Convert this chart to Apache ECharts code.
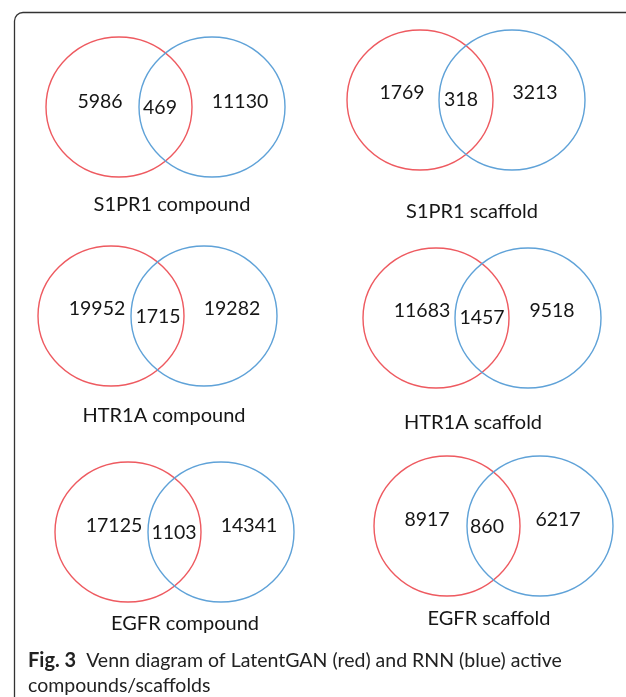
<!DOCTYPE html>
<html>
<head>
<meta charset="utf-8">
<script src="https://cdn.jsdelivr.net/npm/echarts@6/dist/echarts.min.js"></script>
<style>
html,body{margin:0;padding:0;background:#fff;}
#chart{width:626px;height:697px;}
</style>
</head>
<body>
<div id="chart"></div>
<script>
// ---- data ----
const panelTitles = ['S1PR1 compound', 'S1PR1 scaffold', 'HTR1A compound', 'HTR1A scaffold', 'EGFR compound', 'EGFR scaffold'];
const latentGANOnly = [5986, 1769, 19952, 11683, 17125, 8917];
const overlapBoth = [469, 318, 1715, 1457, 1103, 860];
const rnnOnly = [11130, 3213, 19282, 9518, 14341, 6217];
const setNames = ['LatentGAN', 'RNN'];

// ---- layout (pixel space of the hidden axes) ----
// per panel: red centre x, blue centre x, centre y
const layoutCircles = [
  [119, 212, 107],
  [420, 512, 100],
  [111, 204, 316],
  [436, 528, 318],
  [128, 221, 532],
  [447, 540, 526]
];
// per panel: [leftX, leftY, midX, midY, rightX, rightY, titleX, titleY]
const layoutLabels = [
  [100, 102, 160, 108, 240, 102, 172, 205],
  [402, 93, 461, 100, 535, 93, 472, 212],
  [97, 309, 158, 317, 232, 309, 164, 416],
  [422, 311, 482, 318, 552, 311, 473, 423],
  [114, 526, 174, 533, 249, 526, 185, 624],
  [427, 520, 487, 527, 558, 520, 489, 619]
];
const RX = 73, RY = 70;
const COLORS = ['#EE5A60', '#5FA2D8'];

const circleData = [];
layoutCircles.forEach(function (c, i) {
  circleData.push({ value: [c[0], c[2], RX, RY, 0], name: panelTitles[i] + ' ' + setNames[0] });
  circleData.push({ value: [c[1], c[2], RX, RY, 1], name: panelTitles[i] + ' ' + setNames[1] });
});
const numberData = [];
const titleData = [];
layoutLabels.forEach(function (l, i) {
  numberData.push([l[0], l[1], String(latentGANOnly[i])]);
  numberData.push([l[2], l[3], String(overlapBoth[i])]);
  numberData.push([l[4], l[5], String(rnnOnly[i])]);
  titleData.push([l[6], l[7], panelTitles[i]]);
});

const chart = echarts.init(document.getElementById('chart'), null, { renderer: 'canvas' });
const FONT = 'Lato, "Open Sans", sans-serif';

function textRenderer(size) {
  return function (params, api) {
    const p = api.coord([api.value(0), api.value(1)]);
    return {
      type: 'text',
      x: p[0], y: p[1],
      style: {
        text: api.value(2),
        align: 'center', verticalAlign: 'middle',
        fill: '#161616',
        font: size + 'px ' + FONT
      }
    };
  };
}

chart.setOption({
  animation: false,
  backgroundColor: '#fff',
  grid: { left: 0, right: 0, top: 0, bottom: 0 },
  xAxis: { type: 'value', min: 0, max: 626, show: false },
  yAxis: { type: 'value', min: 0, max: 697, inverse: true, show: false },
  series: [
    {
      type: 'custom',
      coordinateSystem: 'cartesian2d',
      data: circleData,
      renderItem: function (params, api) {
        const p = api.coord([api.value(0), api.value(1)]);
        const s = api.size([api.value(2), api.value(3)]);
        return {
          type: 'circle',
          x: p[0], y: p[1],
          scaleY: s[1] / s[0],
          shape: { cx: 0, cy: 0, r: s[0] },
          style: { fill: null, stroke: COLORS[api.value(4)], lineWidth: 1.4 }
        };
      }
    },
    {
      type: 'custom',
      coordinateSystem: 'cartesian2d',
      data: numberData,
      renderItem: textRenderer(19.5)
    },
    {
      type: 'custom',
      coordinateSystem: 'cartesian2d',
      data: titleData,
      renderItem: textRenderer(20)
    }
  ],
  graphic: [
    {
      type: 'line',
      shape: { x1: 14.5, y1: 21, x2: 14.5, y2: 697 },
      style: { stroke: '#333', lineWidth: 1.3 }
    },
    {
      type: 'line',
      shape: { x1: 23, y1: 12.5, x2: 626, y2: 12.5 },
      style: { stroke: '#333', lineWidth: 1.3 }
    },
    {
      type: 'arc',
      shape: { cx: 23, cy: 21, r: 8.5, startAngle: Math.PI, endAngle: Math.PI * 1.5, clockwise: true },
      style: { stroke: '#333', lineWidth: 1.3, fill: null }
    },
    {
      type: 'text',
      x: 28, y: 651,
      style: {
        text: '{b|Fig. 3}  Venn diagram of LatentGAN (red) and RNN (blue) active',
        font: '19.5px ' + FONT,
        fill: '#222',
        rich: { b: { fontWeight: 'bold', fontSize: 20, fontFamily: 'Lato', fill: '#222' } }
      }
    },
    {
      type: 'text',
      x: 28, y: 676,
      style: { text: 'compounds/scaffolds', font: '19.5px ' + FONT, fill: '#222' }
    }
  ]
});
</script>
</body>
</html>
